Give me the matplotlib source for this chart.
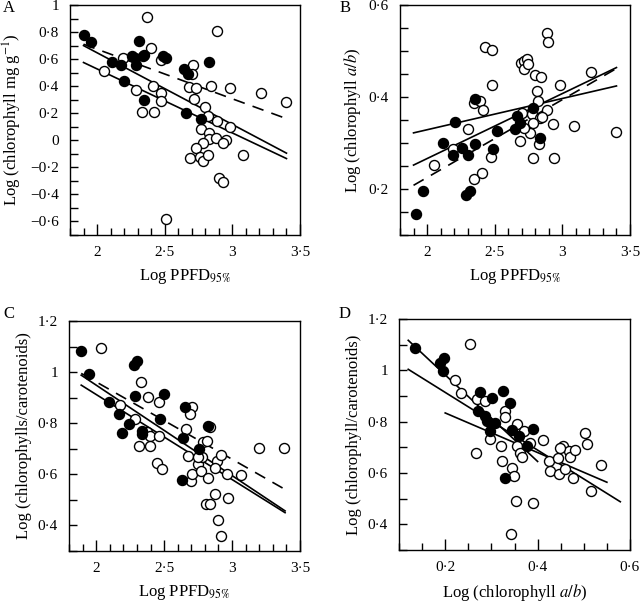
import numpy as np
import matplotlib.pyplot as plt
from matplotlib.ticker import MultipleLocator, FuncFormatter

plt.rcParams['font.family'] = ['Liberation Serif', 'DejaVu Serif']
plt.rcParams['mathtext.fontset'] = 'stix'

# ---- Panel A : Log chlorophyll vs Log PPFD ----
a_filled_x = [1.90, 1.955, 2.11, 2.18, 2.20, 2.26, 2.28, 2.29, 2.31, 2.34, 2.35, 2.35,
              2.49, 2.51, 2.64, 2.66, 2.67, 2.77, 2.83]
a_filled_y = [0.775, 0.73, 0.58, 0.56, 0.44, 0.625, 0.61, 0.56, 0.735, 0.625, 0.30, 0.63,
              0.62, 0.605, 0.525, 0.20, 0.49, 0.155, 0.58]
a_open_x = [2.366, 2.885, 2.05, 2.19, 2.40, 2.29, 2.41, 2.335, 2.42, 2.47, 2.47, 2.47,
            2.71, 2.70, 2.68, 2.73, 2.72, 2.84, 2.98, 3.21, 3.40, 2.80, 2.82, 2.77,
            2.89, 2.98, 2.83, 2.83, 2.88, 2.95, 2.93, 2.78, 2.73, 2.69, 2.76, 2.785,
            2.82, 3.08, 2.90, 2.93, 2.51]
a_open_y = [0.908, 0.805, 0.51, 0.605, 0.68, 0.37, 0.40, 0.21, 0.21, 0.35, 0.29, 0.59,
            0.555, 0.49, 0.395, 0.39, 0.305, 0.405, 0.39, 0.35, 0.28, 0.245, 0.18, 0.085,
            0.14, 0.10, 0.055, 0.01, 0.02, 0.0, -0.02, -0.02, -0.055, -0.13, -0.125, -0.155,
            -0.11, -0.105, -0.275, -0.31, -0.58]
a_fit_x = [1.9, 3.4]
a_fit1_y = [0.70, -0.095]
a_fit2_y = [0.575, -0.135]
a_fit_dash_y = [0.71, 0.16]

# ---- Panel B : Log chlorophyll a/b vs Log PPFD ----
b_filled_x = [1.915, 1.97, 2.115, 2.19, 2.21, 2.26, 2.305, 2.29, 2.32, 2.355, 2.355,
              2.485, 2.52, 2.65, 2.665, 2.69, 2.78, 2.835]
b_filled_y = [0.145, 0.195, 0.30, 0.273, 0.345, 0.29, 0.273, 0.188, 0.195, 0.297, 0.395,
              0.288, 0.327, 0.33, 0.358, 0.344, 0.377, 0.311]
b_open_x = [2.89, 2.895, 2.427, 2.48, 2.48, 2.985, 3.212, 2.695, 2.717, 2.737, 2.72, 2.746,
            2.80, 2.84, 2.81, 2.82, 2.35, 2.39, 2.415, 2.305, 2.195, 2.054, 2.346, 2.407,
            2.476, 2.688, 2.70, 2.773, 2.834, 2.888, 2.851, 2.785, 2.761, 2.83, 2.93,
            3.083, 3.40, 2.785, 2.937, 2.717]
b_open_y = [0.540, 0.5185, 0.508, 0.5025, 0.4255, 0.4255, 0.4545, 0.475, 0.4785, 0.482,
            0.46, 0.471, 0.447, 0.444, 0.413, 0.391, 0.386, 0.391, 0.371, 0.331, 0.288,
            0.253, 0.2225, 0.235, 0.27, 0.304, 0.366, 0.362, 0.355, 0.371, 0.357, 0.344,
            0.322, 0.297, 0.342, 0.338, 0.324, 0.268, 0.268, 0.333]
b_fit_x = [1.9, 3.4]
b_fit1_y = [0.322, 0.424]
b_fit2_y = [0.252, 0.464]
b_fit_dash_y = [0.208, 0.462]

# ---- Panel C : Log chlorophylls/carotenoids vs Log PPFD ----
c_filled_x = [1.89, 1.946, 2.093, 2.17, 2.244, 2.19, 2.276, 2.30, 2.285, 2.337, 2.34,
              2.468, 2.50, 2.654, 2.641, 2.63, 2.756, 2.824]
c_filled_y = [1.081, 0.993, 0.882, 0.836, 0.797, 0.76, 1.026, 1.043, 0.908, 0.77, 0.757,
              0.816, 0.915, 0.865, 0.742, 0.578, 0.701, 0.79]
c_open_x = [2.037, 2.33, 2.385, 2.459, 2.178, 2.288, 2.373, 2.398, 2.459, 2.312, 2.395,
            2.451, 2.483, 2.705, 2.693, 2.661, 2.678, 2.695, 2.707, 2.751, 2.768, 2.78,
            2.785, 2.817, 2.837, 2.824, 2.89, 2.878, 2.922, 2.963, 2.805, 2.841, 2.878,
            2.895, 2.922, 2.971, 3.068, 3.195, 3.385, 2.751]
c_open_y = [1.096, 0.961, 0.904, 0.882, 0.873, 0.816, 0.764, 0.751, 0.751, 0.711, 0.709,
            0.643, 0.62, 0.862, 0.836, 0.777, 0.672, 0.574, 0.603, 0.642, 0.613, 0.666,
            0.725, 0.731, 0.784, 0.587, 0.652, 0.626, 0.675, 0.603, 0.482, 0.485, 0.524,
            0.423, 0.36, 0.506, 0.597, 0.702, 0.702, 0.666]
c_fit_x = [1.89, 3.39]
c_fit1_y = [0.988, 0.457]
c_fit2_y = [0.949, 0.450]
c_fit_dash_y = [0.995, 0.541]

# ---- Panel D : Log chlorophyll/carotenoids vs Log chlorophyll a/b ----
d_filled_x = [0.135, 0.188, 0.198, 0.196, 0.276, 0.301, 0.326, 0.341, 0.272, 0.287, 0.29,
              0.308, 0.297, 0.344, 0.359, 0.391, 0.377, 0.33]
d_filled_y = [1.086, 1.03, 1.049, 0.996, 0.914, 0.891, 0.921, 0.872, 0.842, 0.822, 0.803,
              0.793, 0.763, 0.767, 0.743, 0.772, 0.704, 0.582]
d_open_x = [0.254, 0.222, 0.234, 0.269, 0.287, 0.33, 0.33, 0.267, 0.297, 0.321, 0.323,
            0.355, 0.355, 0.362, 0.366, 0.371, 0.384, 0.412, 0.344, 0.348, 0.354, 0.39,
            0.342, 0.424, 0.427, 0.444, 0.447, 0.455, 0.46, 0.467, 0.471, 0.476, 0.482,
            0.502, 0.507, 0.516, 0.538, 0.449]
d_open_y = [1.103, 0.964, 0.911, 0.888, 0.882, 0.842, 0.82, 0.678, 0.733, 0.707, 0.645,
            0.789, 0.704, 0.678, 0.662, 0.763, 0.717, 0.73, 0.618, 0.589, 0.491, 0.484,
            0.364, 0.647, 0.609, 0.658, 0.596, 0.707, 0.614, 0.684, 0.662, 0.579, 0.688,
            0.757, 0.714, 0.529, 0.632, 0.697]
d_fit_filled_x = [0.12, 0.40]
d_fit_filled_y = [1.117, 0.645]
d_fit_all_x = [0.12, 0.579]
d_fit_all_y = [1.004, 0.488]
d_fit_open_x = [0.20, 0.55]
d_fit_open_y = [0.834, 0.564]


def fmt(v, pos):
    s = f"{v:.2f}".rstrip('0').rstrip('.')
    if s in ('-0', '−0'):
        s = '0'
    return s.replace('.', '\u00b7').replace('-', '\u2212')


def style_axis(ax, xlim, ylim, xmaj, xmin, ymaj, ymin):
    ax.set_xlim(*xlim)
    ax.set_ylim(*ylim)
    ax.xaxis.set_major_locator(MultipleLocator(xmaj))
    ax.xaxis.set_minor_locator(MultipleLocator(xmin))
    ax.yaxis.set_major_locator(MultipleLocator(ymaj))
    ax.yaxis.set_minor_locator(MultipleLocator(ymin))
    ax.xaxis.set_major_formatter(FuncFormatter(fmt))
    ax.yaxis.set_major_formatter(FuncFormatter(fmt))
    ax.tick_params(axis='x', which='major', direction='in', length=8, width=1, pad=8, labelsize=11)
    ax.tick_params(axis='x', which='minor', direction='in', length=5, width=1)
    ax.tick_params(axis='y', which='both', direction='in', length=6, width=1, pad=8, labelsize=11)
    for sp in ax.spines.values():
        sp.set_linewidth(1)


def draw_points(ax, ox, oy, fx, fy):
    ax.scatter(ox, oy, s=52, facecolor='white', edgecolor='black', linewidth=1, zorder=3)
    ax.scatter(fx, fy, s=52, facecolor='black', edgecolor='black', linewidth=1, zorder=4)


fig = plt.figure(figsize=(6.4, 6.02), dpi=100)
W, H = 640, 602


def add_ax(l, t, r, b):
    return fig.add_axes([l / W, 1 - b / H, (r - l) / W, (b - t) / H])


axA = add_ax(70, 5, 300, 235)
axB = add_ax(400, 5, 630, 235)
axC = add_ax(69, 321, 300, 551)
axD = add_ax(399, 319, 630, 550)

dash = (0, (7, 5))
xlab = 'Log PPFD$_{\\mathrm{95\\%}}$'

# A
axA.plot(a_fit_x, a_fit1_y, color='black', lw=1.2, zorder=2)
axA.plot(a_fit_x, a_fit2_y, color='black', lw=1.2, zorder=2)
axA.plot(a_fit_x, a_fit_dash_y, color='black', lw=1.2, ls=dash, zorder=2)
draw_points(axA, a_open_x, a_open_y, a_filled_x, a_filled_y)
style_axis(axA, (1.8, 3.5), (-0.7, 1.0), 0.5, 0.1, 0.2, 0.1)
axA.set_xlabel(xlab, fontsize=12, labelpad=6)
axA.set_ylabel('Log (chlorophyll mg g$^{-1}$)', fontsize=12, labelpad=4)

# B
axB.plot(b_fit_x, b_fit1_y, color='black', lw=1.2, zorder=2)
axB.plot(b_fit_x, b_fit2_y, color='black', lw=1.2, zorder=2)
axB.plot(b_fit_x, b_fit_dash_y, color='black', lw=1.2, ls=dash, zorder=2)
draw_points(axB, b_open_x, b_open_y, b_filled_x, b_filled_y)
style_axis(axB, (1.8, 3.5), (0.1, 0.6), 0.5, 0.1, 0.2, 0.05)
axB.set_xlabel(xlab, fontsize=12, labelpad=6)
axB.set_ylabel('Log (chlorophyll $a/b$)', fontsize=12, labelpad=4)

# C
axC.plot(c_fit_x, c_fit1_y, color='black', lw=1.2, zorder=2)
axC.plot(c_fit_x, c_fit2_y, color='black', lw=1.2, zorder=2)
axC.plot(c_fit_x, c_fit_dash_y, color='black', lw=1.2, ls=dash, zorder=2)
draw_points(axC, c_open_x, c_open_y, c_filled_x, c_filled_y)
style_axis(axC, (1.8, 3.5), (0.3, 1.2), 0.5, 0.1, 0.2, 0.1)
axC.set_xlabel(xlab, fontsize=12, labelpad=6)
axC.set_ylabel('Log (chlorophylls/carotenoids)', fontsize=12, labelpad=4)

# D
axD.plot(d_fit_filled_x, d_fit_filled_y, color='black', lw=1.2, zorder=2)
axD.plot(d_fit_all_x, d_fit_all_y, color='black', lw=1.2, zorder=2)
axD.plot(d_fit_open_x, d_fit_open_y, color='black', lw=1.2, zorder=2)
draw_points(axD, d_open_x, d_open_y, d_filled_x, d_filled_y)
style_axis(axD, (0.1, 0.6), (0.3, 1.2), 0.2, 0.05, 0.2, 0.1)
axD.set_xlabel('Log (chlorophyll $a/b$)', fontsize=12, labelpad=6)
axD.set_ylabel('Log (chlorophyll/carotenoids)', fontsize=12, labelpad=4)

# panel letters
for lbl, px, py in [('A', 9, 8), ('B', 345, 8), ('C', 9, 314), ('D', 345, 314)]:
    fig.text(px / W, 1 - py / H, lbl, fontsize=12, ha='center', va='center')

fig.savefig('out.png', dpi=100)
